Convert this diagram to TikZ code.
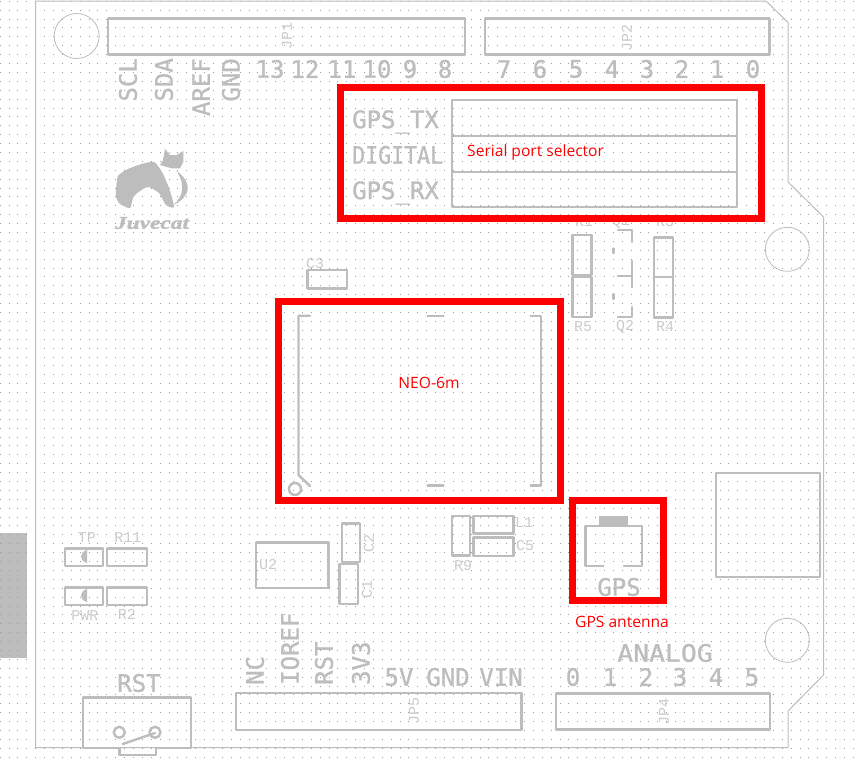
\documentclass[tikz,border=0pt]{standalone}
\usepackage{fontspec}
\newfontfamily\silkfont[FakeBold=1]{DejaVu Sans Mono}
\newfontfamily\tinyfont{Liberation Mono}
\newfontfamily\notefont{Open Sans}
\newfontfamily\logofont[FakeBold=1.5]{Liberation Serif}
\definecolor{silkgray}{HTML}{BDBDBD}
\definecolor{tinygray}{HTML}{CBCBCB}
\definecolor{dotgray}{HTML}{9A9A9A}
\definecolor{markred}{HTML}{FF0000}

\begin{document}
\begin{tikzpicture}
    [x=1pt, y=-1pt, line join=round, line cap=round,
      griddot/.style={fill=dotgray},
      outline/.style={draw=silkgray, line width=1pt},
      hole/.style={draw=silkgray, line width=0.8pt},
      part/.style={draw=silkgray, line width=2.4pt},
      redbox/.style={draw=markred, line width=7pt, line cap=butt, line join=miter},
      silk/.style={text=silkgray, inner sep=0pt, font=\silkfont\fontsize{24}{24}\selectfont},
      tinytext/.style={text=tinygray, inner sep=0pt, font=\tinyfont\fontsize{15}{15}\selectfont},
      redtext/.style={text=markred, inner sep=0pt, font=\notefont\fontsize{15.6}{16}\selectfont},
     ]
    \useasboundingbox (0,0) rectangle (857,766);
    \fill[white] (0,0) rectangle (857,766);
    \fill[silkgray] (0,533) rectangle (27,658);
    % grid
    \foreach \i in {0,...,96}
      \foreach \j in {0,...,85}
        \fill[griddot] ({floor(0.15+\i*8.888)},{floor(1.3+\j*8.893)}) rectangle +(1,1);
    % board
    \draw[outline] (35.5,1) -- (766,1) -- (788,22.5) -- (788,182) -- (823.5,217)
      -- (823.5,675) -- (788,711) -- (788,747.5) -- (35.5,747.5) -- cycle;
    \draw[hole] (76.7,36) circle (22.5);
    \draw[hole] (787.3,249.3) circle (22);
    \draw[hole] (787.3,640.3) circle (22);
    % headers
    \draw[part] (108,18.5) rectangle (465,54.5);
    \draw[part] (485,18.5) rectangle (769.5,54.5);
    \draw[part] (236,693) rectangle (521.5,730);
    \draw[part] (556,693.5) rectangle (770,729.5);
    \node[tinytext, rotate=90] (jp1) at (287,36) {JP1};
    \node[tinytext, rotate=90] (jp2) at (627,38) {JP2};
    \node[tinytext, rotate=90] (jp5) at (414,711) {JP5};
    \node[tinytext, rotate=90] (jp4) at (664,712) {JP4};
    \foreach \x/\t in {128/SCL,164/SDA,201/AREF,231/GND}
      \node[silk, rotate=90, anchor=east] (top\t) at (\x,58) {\t};
    \foreach \x/\t in {270/13,305/12,342/11,377/10,410/9,445/8,504/7,540/6,576/5,612/4,647/3,682/2,717/1,753/0}
      \node[silk] (dig\t) at (\x,69) {\t};
    \foreach \x/\t in {255/NC,290/IOREF,324/RST,361/3V3}
      \node[silk, rotate=90, anchor=west] (pow\t) at (\x,685) {\t};
    \node[silk] (five) at (399,677) {5V};
    \node[silk] (gnd) at (448,677) {GND};
    \node[silk] (vin) at (501,677) {VIN};
    \node[silk, xscale=1.1] (analog) at (665,653) {ANALOG};
    \foreach \x/\t in {573/0,610/1,646/2,680/3,716/4,752/5}
      \node[silk] (ana\t) at (\x,677) {\t};
    % logo
    \fill[silkgray] plot[smooth cycle, tension=0.4] coordinates {(116,190) (118,176) (128,169) (141.7,164) (154,162)
      (162,172) (169,188) (174,207) (166,205) (159,193) (148.3,187) (140,191) (133.3,197)
      (130,208) (120,204) (116,197)};
    \fill[silkgray] (160,165) -- (163,160) -- (165,149) -- (170,155) -- (176.7,155) -- (183.3,151)
      -- (183.3,162) -- (180,168.3) -- (171.7,168.3) -- cycle;
    \fill[silkgray] (176.7,171) .. controls (192,182) and (192,196) .. (173.3,205)
      .. controls (184,196) and (185,184) .. (176.7,171) -- cycle;
    \node[text=silkgray, inner sep=0pt, xscale=1.3, font=\logofont\bfseries\itshape\fontsize{18}{18}\selectfont] (logo) at (152,223) {Juvecat};
    % selector
    \draw[part] (451.7,100) rectangle (736.7,206.7);
    \draw[part] (451.7,135.7) -- (736.7,135.7);
    \draw[part] (451.7,171.7) -- (736.7,171.7);
    \node[silk, anchor=west] (gpstx) at (352,122) {GPS\_TX};
    \node[silk, anchor=west, xscale=0.9] (digital) at (352,155) {DIGITAL};
    \node[silk, anchor=west] (gpsrx) at (352,193) {GPS\_RX};
    % resistors, transistors
    \foreach \t/\a/\b/\c/\d in {r1/572.3/235/591.3/275,r5/572.3/277/591.3/317,r3/654/237.5/672.7/276.7,r4/654/276.7/672.7/317.3}
      \draw[part] (\a,\b) rectangle (\c,\d);
    \foreach \x/\y/\t in {584/222/R1,621/222/Q1,665/222/R3,583/327/R5,625/327/Q2,665/327/R4}
      \node[tinytext] (lab\t) at (\x,\y) {\t};
    \draw[part] (618,230) -- (632,230) -- (632,242);
    \draw[part] (632,261) -- (632,276) -- (618,276) -- (632,276) -- (632,287);
    \draw[part] (632,307) -- (632,317) -- (618,317);
    \draw[part] (613.3,248.5) -- (613.3,253);
    \draw[part] (613.3,294) -- (613.3,299);
    % neo module
    \draw[part] (307.5,270) rectangle (346.7,288.3);
    \node[tinytext] (c3) at (315,264) {C3};
    \draw[part] (310,315.7) -- (298.5,315.7) -- (298.5,475) -- (310,486);
    \draw[part] (427.5,315.7) -- (443.5,315.7);
    \draw[part] (427.5,485.5) -- (443.5,485.5);
    \draw[part] (530.7,315.7) -- (540.7,315.7) -- (540.7,485.5) -- (530.7,485.5);
    \draw[part] (295,489) circle (6);
    % leds
    \foreach \a/\b/\c/\d in {65/548.3/103/565.7,106.7/548.3/147/565.7,65/587.3/103/605,106.7/587.3/147/605}
      \draw[part] (\a,\b) rectangle (\c,\d);
    \fill[silkgray] (87,550) .. controls (79,552) and (79,561) .. (87,563) -- cycle;
    \fill[silkgray] (87,589) .. controls (79,591) and (79,600) .. (87,602) -- cycle;
    \foreach \x/\y/\t in {87/538/TP,128/538/R11,85/616/PWR,127/614/R2,268/565/U2,524/523/L1,525/546/C5,463/566/R9}
      \node[tinytext] (lab\t) at (\x,\y) {\t};
    \node[tinytext, rotate=90] (labC2) at (369,543) {C2};
    \node[tinytext, rotate=90] (labC1) at (367,589) {C1};
    % small parts
    \foreach \a/\b/\c/\d in {256/542.3/328.3/587.7,341.7/523.3/360/561.7,339.3/564/358/604,451.7/516/470/555.3,473.3/516/513.3/533.3,473.3/537.3/513.3/556,716/473/820/576.7}
      \draw[part] (\a,\b) rectangle (\c,\d);
    % reset
    \node[silk] (rstlab) at (139,683) {RST};
    \draw[part] (119.3,747.7) -- (82.7,747.7) -- (82.7,697.3) -- (191,697.3) -- (191,747.7) -- (156,747.7)
      -- (156,755) -- (119.3,755) -- cycle;
    \draw[part] (119.3,732.3) circle (5.5);
    \draw[part] (155,732.3) circle (5.5);
    \draw[part] (122.7,744) -- (155,733);
    % antenna
    \fill[silkgray] (599,516) rectangle (628,526.7);
    \draw[part] (602.7,526) -- (585.3,526) -- (585.3,565.7) -- (603.3,565.7);
    \draw[part] (628,526) -- (642,526) -- (642,565.7) -- (624,565.7);
    \node[silk] (gpslab) at (619,587) {GPS};
    % marks
    \draw[redbox] (340.5,87.5) rectangle (761.3,218.3);
    \draw[redbox] (278.5,301) rectangle (560.5,500.5);
    \draw[redbox] (572.5,500.8) rectangle (663.2,600.5);
    \node[redtext, anchor=west] (selector) at (467,152) {Serial port selector};
    \node[redtext] (neo) at (429,383) {NEO-6m};
    \node[redtext] (antenna) at (622,621.5) {GPS antenna};
\end{tikzpicture}
\end{document}
